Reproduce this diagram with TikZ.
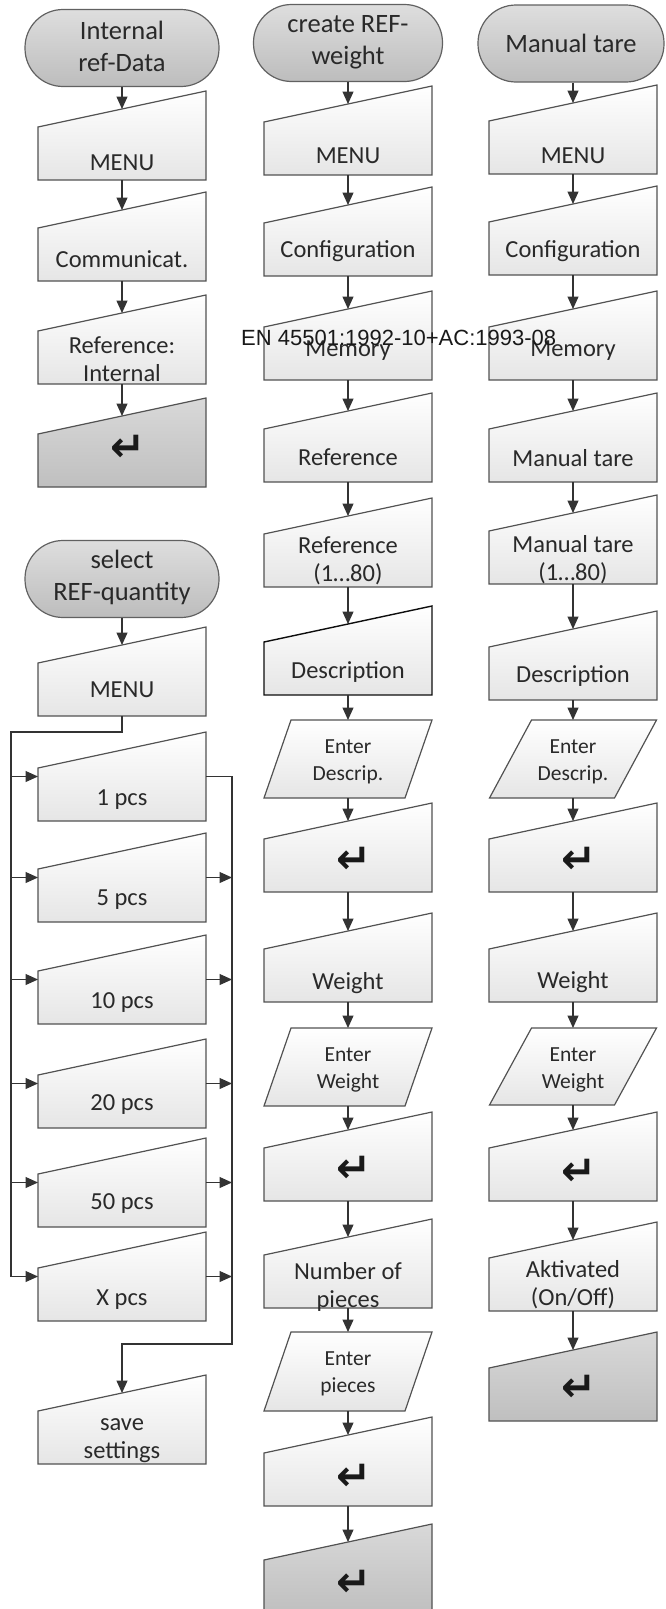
\documentclass[tikz,border=0pt]{standalone}
\usepackage{fontspec}
\setmainfont{Carlito}
\newfontfamily\arialf{Liberation Sans}
\newfontfamily\symf{DejaVu Sans}
\usetikzlibrary{arrows.meta,calc}

\tikzset{
  anch/.style={rectangle, draw=none, inner sep=0pt, outer sep=0pt, minimum width=168pt, minimum height=89pt},
  wbox/.style={draw=black!68, line width=1.2pt, top color=white, bottom color=black!10},
  gbox/.style={draw=black!68, line width=1.2pt, top color=black!15, bottom color=black!25},
  kbox/.style={draw=black!95, line width=1.4pt, top color=white, bottom color=black!10},
  term/.style={rectangle, rounded corners=38pt, draw=black!62, line width=1.2pt, top color=black!13, bottom color=black!26, inner sep=0pt, minimum height=77pt},
  lbl/.style={font=\fontsize{24.5}{28}\selectfont, text=black!84, inner sep=0pt, anchor=base},
  tlbl/.style={font=\fontsize{26.5}{32}\selectfont, text=black!84, inner sep=0pt, anchor=base},
  plbl/.style={font=\fontsize{21.5}{27}\selectfont, text=black!84, inner sep=0pt, anchor=base},
  ret/.style={font=\symf\bfseries\fontsize{42}{46}\selectfont, text=black!90, inner sep=0pt},
  line/.style={draw=black!80, line width=1.2pt},
  arr/.style={line, -{Triangle[length=12.5pt,width=11pt]}},
}

% manual-input box: name, left x, top-right y, style
\newcommand\manin[4]{%
  \node[anch, anchor=north west] (#1) at (#2,#3) {};
  \path[#4] (#1.north east) -- (#1.south east) -- (#1.south west) -- ([yshift=-36pt]#1.north west) -- cycle;
  \coordinate (#1-in) at ([yshift=-18pt]#1.north);
}
% parallelogram: name, cx, cy, w, h, slant
\newcommand\mkpara[6]{%
  \node[rectangle, draw=none, inner sep=0pt, outer sep=0pt, minimum width=#4pt, minimum height=#5pt] (#1) at (#2,#3) {};
  \path[wbox] (#1.south west) -- ([xshift=-#6pt]#1.south east) -- (#1.north east) -- ([xshift=#6pt]#1.north west) -- cycle;
}
\newcommand\btxt[4]{\node[lbl] (#1) at (#2,#3) {#4};}
\newcommand\btwo[6][lbl]{\node[#1] (#2) at (#3,#4) {\begin{tabular}[t]{@{}c@{}}#5\\#6\end{tabular}};}
\newcommand\rsym[3]{\node[ret] (#1) at (#2,#3) {↵};}

\begin{document}
\begin{tikzpicture}[x=1pt,y=-1pt]
\useasboundingbox (0,0) rectangle (665,1609);

% ---------------- column 1, top ----------------
\node[term, minimum width=194pt] (t1) at (122,48) {};
\btwo[tlbl]{t1t}{122}{39.5}{Internal}{ref-Data}
\manin{a1}{38}{91}{wbox}   \btxt{a1t}{122}{170}{MENU}
\manin{a2}{38}{192}{wbox}  \btxt{a2t}{122}{267}{Communicat.}
\manin{a3}{38}{295}{wbox}  \btwo{a3t}{122}{353}{Reference:}{Internal}
\manin{a4}{38}{398}{gbox}  \rsym{a4t}{128}{448}
\draw[arr] (t1.south -| a1-in) -- (a1-in);
\draw[arr] (a1.south) -- (a2-in);
\draw[arr] (a2.south) -- (a3-in);
\draw[arr] (a3.south) -- (a4-in);

% ---------------- column 1, bottom ----------------
\node[term, minimum width=194pt] (t2) at (122,579) {};
\btwo[tlbl]{t2t}{122}{568}{select}{REF-quantity}
\manin{b1}{38}{627}{wbox}  \btxt{b1t}{122}{697.5}{MENU}
\manin{p1}{38}{732}{wbox}  \btxt{p1t}{122}{805}{1 pcs}
\manin{p2}{38}{833}{wbox}  \btxt{p2t}{122}{905}{5 pcs}
\manin{p3}{38}{935}{wbox}  \btxt{p3t}{122}{1008}{10 pcs}
\manin{p4}{38}{1039}{wbox} \btxt{p4t}{122}{1110}{20 pcs}
\manin{p5}{38}{1138}{wbox} \btxt{p5t}{122}{1209}{50 pcs}
\manin{p6}{38}{1232}{wbox} \btxt{p6t}{122}{1305}{X pcs}
\manin{s1}{38}{1375}{wbox} \btwo{s1t}{122}{1430}{save}{settings}
\draw[arr] (t2.south -| b1-in) -- (b1-in);
\coordinate (jl) at (11,732);
\coordinate (jr) at (232,1344);
\draw[line] (b1.south) |- (jl) -- (jl |- p6.west);
\foreach \p in {p1,p2,p3,p4,p5,p6} \draw[arr] (jl |- \p.west) -- (\p.west);
\draw[arr] (p1.east) -| (jr) -| (s1-in);
\foreach \p in {p2,p3,p4,p5,p6} \draw[arr] (\p.east) -- (jr |- \p.east);

% ---------------- column 2 ----------------
\node[term, minimum width=189pt] (t3) at (348,43) {};
\btwo[tlbl]{t3t}{348}{32}{create REF-}{weight}
\manin{c1}{264}{86}{wbox}   \btxt{c1t}{348}{163}{MENU}
\manin{c2}{264}{187}{wbox}  \btxt{c2t}{348}{257.5}{Configuration}
\manin{c3}{264}{291}{wbox}  \btxt{c3t}{348}{356}{Memory}
\manin{c4}{264}{393}{wbox}  \btxt{c4t}{348}{465}{Reference}
\manin{c5}{264}{498}{wbox}  \btwo{c5t}{348}{553}{Reference}{(1…80)}
\manin{c6}{264}{606}{kbox}  \btxt{c6t}{348}{678}{Description}
\mkpara{c7}{348}{759}{168}{78}{27} \btwo[plbl]{c7t}{348}{753}{Enter}{Descrip.}
\manin{c8}{264}{803}{wbox}  \rsym{c8t}{354}{860}
\manin{c9}{264}{913}{wbox}  \btxt{c9t}{348}{989}{Weight}
\mkpara{c10}{348}{1067}{168}{78}{27} \btwo[plbl]{c10t}{348}{1061}{Enter}{Weight}
\manin{c11}{264}{1112}{wbox} \rsym{c11t}{354}{1169}
\manin{c12}{264}{1219}{wbox} \btwo{c12t}{348}{1279}{Number of}{pieces}
\mkpara{c13}{348}{1371.5}{168}{79}{27} \btwo[plbl]{c13t}{348}{1365}{Enter}{pieces}
\manin{c14}{264}{1417}{wbox} \rsym{c14t}{354}{1477}
\manin{c15}{264}{1524}{gbox} \rsym{c15t}{354}{1583}
\draw[arr] (t3.south -| c1-in) -- (c1-in);
\draw[arr] (c1.south) -- (c2-in);
\draw[arr] (c2.south) -- (c3-in);
\draw[arr] (c3.south) -- (c4-in);
\draw[arr] (c4.south) -- (c5-in);
\draw[arr] (c5.south) -- (c6-in);
\draw[arr] (c6.south) -- (c7.north);
\draw[arr] (c7.south) -- (c8-in);
\draw[arr] (c8.south) -- (c9-in);
\draw[arr] (c9.south) -- (c10.north);
\draw[arr] (c10.south) -- (c11-in);
\draw[arr] (c11.south) -- (c12-in);
\draw[arr] (c12.south) -- (c13.north);
\draw[arr] (c13.south) -- (c14-in);
\draw[arr] (c14.south) -- (c15-in);

% ---------------- column 3 ----------------
\node[term, minimum width=186pt] (t4) at (571,43.5) {};
\btxt{t4t}{571}{52}{\fontsize{26.5}{32}\selectfont Manual tare}
\manin{d1}{489}{85}{wbox}   \btxt{d1t}{573}{163}{MENU}
\manin{d2}{489}{186}{wbox}  \btxt{d2t}{573}{257.5}{Configuration}
\manin{d3}{489}{291}{wbox}  \btxt{d3t}{573}{356}{Memory}
\manin{d4}{489}{393}{wbox}  \btxt{d4t}{573}{466.5}{Manual tare}
\manin{d5}{489}{495}{wbox}  \btwo{d5t}{573}{552}{Manual tare}{(1…80)}
\manin{d6}{489}{611}{wbox}  \btxt{d6t}{573}{682.5}{Description}
\mkpara{d7}{573}{759}{167}{78}{42} \btwo[plbl]{d7t}{573}{753}{Enter}{Descrip.}
\manin{d8}{489}{803}{wbox}  \rsym{d8t}{579}{860}
\manin{d9}{489}{913}{wbox}  \btxt{d9t}{573}{988}{Weight}
\mkpara{d10}{573}{1066.5}{167}{77}{42} \btwo[plbl]{d10t}{573}{1061}{Enter}{Weight}
\manin{d11}{489}{1112}{wbox} \rsym{d11t}{579}{1172}
\manin{d12}{489}{1222}{wbox} \btwo{d12t}{573}{1277}{Aktivated}{(On/Off)}
\manin{d13}{489}{1332}{gbox} \rsym{d13t}{579}{1388}
\draw[arr] (t4.south -| d1-in) -- (d1-in);
\draw[arr] (d1.south) -- (d2-in);
\draw[arr] (d2.south) -- (d3-in);
\draw[arr] (d3.south) -- (d4-in);
\draw[arr] (d4.south) -- (d5-in);
\draw[arr] (d5.south) -- (d6-in);
\draw[arr] (d6.south) -- (d7.north);
\draw[arr] (d7.south) -- (d8-in);
\draw[arr] (d8.south) -- (d9-in);
\draw[arr] (d9.south) -- (d10.north);
\draw[arr] (d10.south) -- (d11-in);
\draw[arr] (d11.south) -- (d12-in);
\draw[arr] (d12.south) -- (d13-in);

% ---------------- overlay text ----------------
\node[font=\arialf\fontsize{22}{26}\selectfont, text=black!90, inner sep=0pt, anchor=base west] (en) at (241,345) {EN 45501:1992-10+AC:1993-08};
\end{tikzpicture}
\end{document}
